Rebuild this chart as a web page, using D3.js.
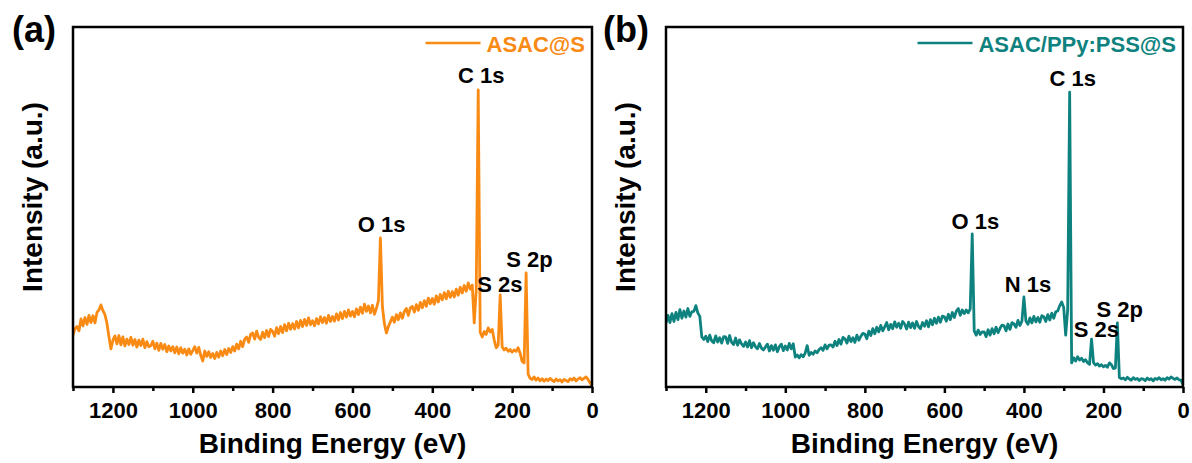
<!DOCTYPE html>
<html>
<head>
<meta charset="utf-8">
<script src="https://cdn.jsdelivr.net/npm/d3@7/dist/d3.min.js"></script>
<style>
  html, body { margin: 0; padding: 0; background: #fff; }
  svg { display: block; }
  text { font-family: "Liberation Sans", Arial, sans-serif; font-weight: bold; }
</style>
</head>
<body>
<svg id="chart" width="1192" height="463"></svg>
<script>
// XPS survey spectra, binding energy 1300 -> 0 eV sampled every 5 eV
const energyStart = 1300;
const energyStep = 5;

// ASAC@S survey intensity (a.u.), one value per 5 eV from 1300 eV down to 0 eV
const intensityASAC = [
  14.4, 16.2, 16.8, 15.6, 18.9, 17.0, 19.3, 17.4, 19.9, 17.9,
  19.8, 17.8, 20.7, 21.4, 22.8, 21.2, 20.1, 17.7, 14.0, 10.6,
  13.0, 14.2, 12.0, 14.3, 11.7, 13.9, 11.4, 13.3, 11.8, 13.8,
  11.6, 13.2, 11.1, 13.0, 11.5, 13.3, 10.9, 12.6, 11.2, 11.5,
  12.7, 10.6, 12.2, 10.2, 12.1, 10.5, 11.8, 9.8, 11.4, 10.0,
  11.2, 9.5, 11.1, 9.2, 10.9, 9.4, 10.5, 8.9, 10.6, 9.1,
  10.1, 11.2, 9.4, 11.0, 8.8, 7.2, 10.0, 8.5, 9.8, 8.2,
  9.3, 7.9, 9.6, 8.3, 10.0, 8.7, 10.4, 9.0, 10.7, 9.6,
  11.2, 10.0, 11.9, 10.6, 12.7, 11.2, 13.3, 13.9, 12.4, 14.6,
  15.0, 13.3, 15.5, 13.8, 13.2, 15.2, 13.7, 15.7, 14.0, 16.0,
  15.4, 14.1, 16.5, 14.8, 16.8, 15.1, 17.3, 15.6, 17.7, 16.0,
  17.6, 16.1, 18.2, 16.4, 18.5, 16.8, 18.8, 17.1, 19.2, 17.3,
  18.4, 17.0, 19.0, 17.5, 19.5, 17.9, 19.3, 17.7, 19.9, 18.2,
  19.6, 18.3, 20.3, 18.6, 20.7, 19.0, 21.0, 19.4, 21.4, 19.7,
  21.0, 19.5, 21.7, 20.1, 22.2, 20.5, 23.0, 21.0, 22.5, 20.6,
  22.7, 20.2, 21.8, 24.0, 41.4, 22.3, 17.6, 15.0, 16.8, 18.1,
  19.4, 18.0, 20.1, 18.7, 20.6, 19.1, 21.0, 21.8, 19.9, 22.0,
  22.4, 20.8, 22.9, 21.3, 23.5, 22.0, 24.0, 22.4, 24.7, 23.1,
  24.6, 23.0, 25.3, 23.6, 25.7, 24.2, 26.2, 24.5, 26.6, 24.9,
  26.5, 25.0, 27.2, 25.5, 27.7, 26.1, 28.2, 26.6, 28.9, 27.2,
  28.3, 17.8, 27.0, 82.5, 15.2, 13.9, 15.4, 14.6, 16.4, 15.3,
  16.0, 13.1, 10.9, 11.6, 25.6, 11.2, 10.3, 10.8, 9.9, 10.4,
  9.7, 10.3, 9.9, 10.9, 9.4, 7.1, 6.7, 31.7, 3.6, 2.4,
  2.1, 2.8, 1.9, 2.5, 1.7, 2.3, 1.6, 2.2, 1.8, 2.4,
  1.9, 1.5, 2.2, 1.7, 2.0, 1.4, 2.1, 1.8, 1.5, 2.3,
  1.9, 2.5, 1.7, 2.2, 2.6, 2.0, 2.4, 2.8, 2.1, 1.2,
  0.2
];

// ASAC/PPy:PSS@S survey intensity (a.u.), same energy grid
const intensityPPy = [
  17.8, 19.9, 17.9, 20.4, 18.2, 20.7, 18.7, 21.5, 19.1, 21.1,
  19.4, 21.8, 19.6, 20.9, 21.0, 22.6, 20.6, 19.6, 13.9, 13.2,
  14.1, 12.6, 14.4, 12.8, 12.3, 14.2, 12.5, 13.7, 12.2, 14.0,
  13.9, 12.1, 14.3, 12.4, 11.8, 13.6, 11.6, 13.1, 12.0, 11.3,
  12.5, 11.1, 12.9, 10.9, 12.3, 11.2, 10.6, 12.1, 10.8, 10.3,
  11.1, 11.9, 10.0, 11.5, 10.2, 11.7, 9.8, 11.2, 11.9, 10.1,
  11.4, 10.3, 12.1, 10.6, 12.0, 8.3, 8.9, 8.1, 9.0, 8.4,
  9.4, 11.5, 8.8, 9.6, 9.1, 10.0, 9.5, 10.4, 10.9, 10.2,
  11.7, 10.6, 11.6, 11.7, 11.1, 12.7, 11.5, 13.2, 11.9, 13.8,
  13.4, 12.2, 14.1, 12.6, 13.7, 12.4, 14.4, 13.0, 14.1, 14.9,
  14.7, 13.4, 15.5, 14.3, 16.2, 14.8, 16.6, 15.3, 17.1, 15.6,
  16.7, 17.9, 15.9, 17.4, 16.2, 18.1, 16.6, 17.7, 16.3, 18.2,
  17.5, 16.1, 18.0, 16.5, 17.8, 16.3, 18.2, 16.8, 16.2, 17.9,
  16.9, 18.4, 16.7, 18.7, 17.3, 19.1, 17.7, 19.4, 18.0, 19.7,
  19.5, 18.3, 20.2, 18.7, 20.7, 19.3, 21.1, 21.8, 19.9, 21.4,
  20.4, 21.4, 20.6, 21.7, 42.5, 15.6, 14.4, 15.8, 14.6, 15.3,
  15.3, 14.0, 15.9, 14.4, 16.2, 14.8, 16.6, 15.1, 16.3, 17.2,
  17.0, 15.6, 17.5, 16.0, 17.9, 17.5, 16.6, 18.5, 17.1, 18.3,
  25.0, 18.3, 17.4, 19.2, 17.8, 19.6, 18.1, 19.3, 18.0, 19.8,
  19.5, 18.2, 20.1, 18.6, 20.5, 19.1, 20.9, 21.1, 22.6, 23.6,
  22.1, 14.4, 21.4, 81.9, 6.7, 8.1, 7.2, 8.4, 7.5, 8.0,
  7.1, 7.6, 6.7, 6.3, 13.3, 6.8, 6.1, 6.5, 5.8, 6.2,
  5.6, 6.0, 5.5, 6.7, 6.2, 5.1, 5.3, 17.8, 2.6, 2.3,
  2.5, 2.0, 2.7, 2.2, 1.9, 2.6, 2.1, 2.4, 1.8, 2.3,
  2.2, 1.8, 2.5, 2.0, 2.3, 1.7, 2.4, 2.1, 2.6, 2.0,
  2.3, 1.9, 2.6, 2.2, 2.8, 2.4, 2.1, 2.5, 2.0, 1.9,
  0.6
];

const majorTicks = [1200, 1000, 800, 600, 400, 200, 0];
const minorTicks = [1300, 1100, 900, 700, 500, 300, 100];

const peaksASAC = [
  { label: "C 1s", energy: 284.8, dx: 3, y: 83 },
  { label: "O 1s", energy: 532, dx: 2, y: 232 },
  { label: "S 2p", energy: 164, dx: 3, y: 267 },
  { label: "S 2s", energy: 228, dx: -1, y: 292 }
];
const peaksPPy = [
  { label: "C 1s", energy: 284.8, dx: 3, y: 86 },
  { label: "O 1s", energy: 532, dx: 4, y: 229 },
  { label: "N 1s", energy: 400, dx: 4, y: 292 },
  { label: "S 2p", energy: 164, dx: 2, y: 317 },
  { label: "S 2s", energy: 228, dx: 4, y: 337 }
];

const panels = [
  { tag: "(a)", name: "ASAC@S", values: intensityASAC, color: "#F98A14",
    left: 73, right: 592, tagX: 12, peaks: peaksASAC },
  { tag: "(b)", name: "ASAC/PPy:PSS@S", values: intensityPPy, color: "#0E827E",
    left: 666, right: 1183, tagX: 603, peaks: peaksPPy }
];

const plotTop = 27, plotBottom = 387;
const svg = d3.select("#chart");
const defs = svg.append("defs");

panels.forEach((p, k) => {
  const series = p.values.map((v, i) => ({ e: energyStart - i * energyStep, v }));
  const x = d3.scaleLinear().domain([1300, 0]).range([p.left, p.right]);
  const y = d3.scaleLinear().domain([0, 100]).range([plotBottom, plotTop]);

  const g = svg.append("g");

  const clipId = "clip" + k;
  defs.append("clipPath").attr("id", clipId)
    .append("rect").attr("x", p.left).attr("y", plotTop)
    .attr("width", p.right - p.left).attr("height", plotBottom - plotTop);

  // spectrum
  g.append("path")
    .datum(series)
    .attr("clip-path", `url(#${clipId})`)
    .attr("fill", "none")
    .attr("stroke", p.color)
    .attr("stroke-width", 2.8)
    .attr("stroke-linejoin", "round")
    .attr("d", d3.line().x(d => x(d.e)).y(d => y(d.v)));

  // frame
  g.append("rect")
    .attr("x", p.left).attr("y", plotTop)
    .attr("width", p.right - p.left).attr("height", plotBottom - plotTop)
    .attr("fill", "none").attr("stroke", "#000").attr("stroke-width", 2.5);

  // bottom axis: labelled major ticks, short minor ticks
  const axis = g.append("g").attr("transform", `translate(0,${plotBottom})`)
    .call(d3.axisBottom(x).tickValues(majorTicks).tickSize(6).tickPadding(9).tickFormat(d3.format("d")));
  axis.select(".domain").remove();
  axis.selectAll(".tick line").attr("stroke", "#000").attr("stroke-width", 2.5);
  axis.selectAll(".tick text").attr("font-size", 22).attr("fill", "#000")
    .attr("font-family", '"Liberation Sans", Arial, sans-serif').attr("font-weight", "bold");

  const minor = g.append("g").attr("transform", `translate(0,${plotBottom})`)
    .call(d3.axisBottom(x).tickValues(minorTicks).tickSize(4).tickFormat(""));
  minor.select(".domain").remove();
  minor.selectAll(".tick line").attr("stroke", "#000").attr("stroke-width", 2.5);

  // axis titles
  g.append("text")
    .attr("x", (p.left + p.right) / 2).attr("y", 453)
    .attr("text-anchor", "middle").attr("font-size", 28).attr("fill", "#000")
    .text("Binding Energy (eV)");
  g.append("text")
    .attr("transform", `translate(${p.left - 31},${(plotTop + plotBottom) / 2 - 10}) rotate(-90)`)
    .attr("text-anchor", "middle").attr("font-size", 28).attr("fill", "#000")
    .text("Intensity (a.u.)");

  // panel tag
  g.append("text")
    .attr("x", p.tagX).attr("y", 42)
    .attr("font-size", 36).attr("fill", "#000")
    .text(p.tag);

  // legend
  const legendText = g.append("text")
    .attr("x", p.right - 7).attr("y", 52)
    .attr("text-anchor", "end").attr("font-size", 22).attr("fill", p.color)
    .text(p.name);
  const tw = legendText.node().getComputedTextLength();
  const lx1 = p.right - 7 - tw - 6;
  g.append("line")
    .attr("x1", lx1 - 55).attr("x2", lx1)
    .attr("y1", 43).attr("y2", 43)
    .attr("stroke", p.color).attr("stroke-width", 2.5);

  // peak assignments
  g.selectAll(".peak").data(p.peaks).enter().append("text")
    .attr("x", d => x(d.energy) + d.dx).attr("y", d => d.y)
    .attr("text-anchor", "middle").attr("font-size", 22).attr("fill", "#000")
    .text(d => d.label);
});
</script>
</body>
</html>
